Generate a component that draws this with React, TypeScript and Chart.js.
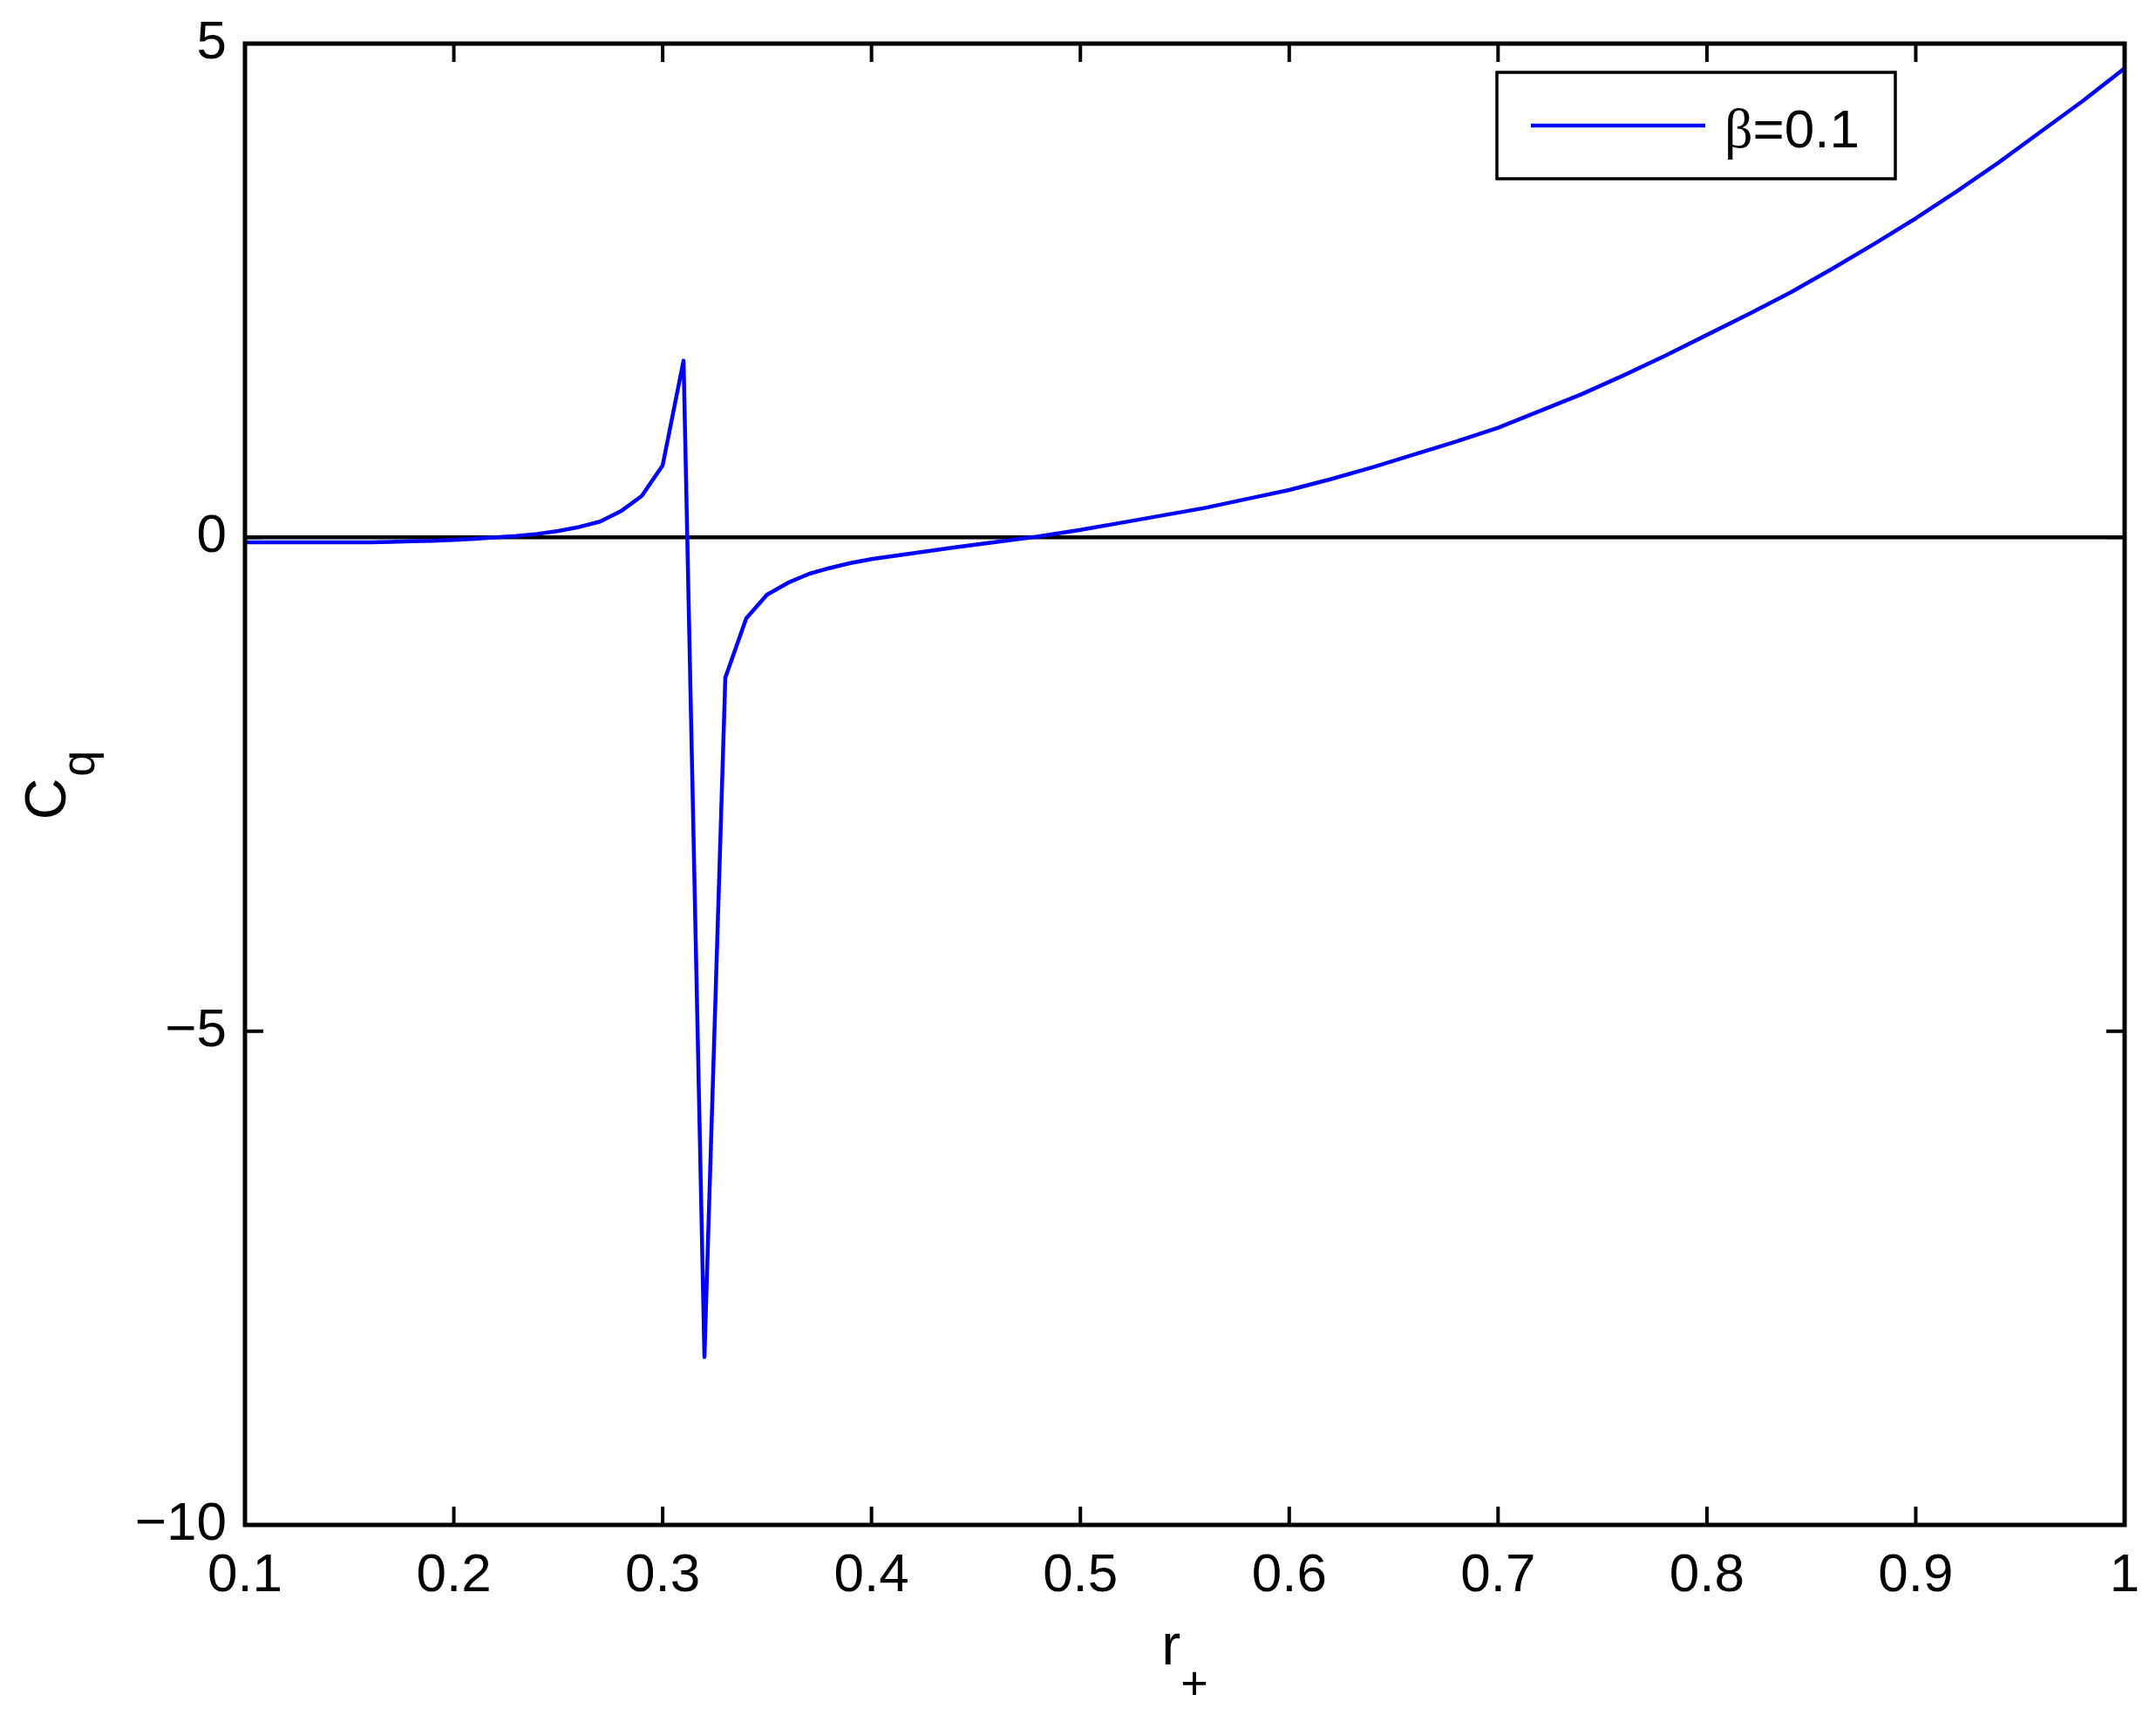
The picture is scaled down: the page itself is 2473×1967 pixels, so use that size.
import { useEffect, useRef } from 'react';
import { Chart, registerables } from 'chart.js';

Chart.register(...registerables);

// ---- data ----
const rValues = [
  0.10, 0.11, 0.12, 0.13, 0.14, 0.15, 0.16, 0.17, 0.18, 0.19,
  0.20, 0.21, 0.22, 0.23, 0.24, 0.25, 0.26, 0.27, 0.28, 0.29,
  0.30, 0.31, 0.32, 0.33, 0.34, 0.35, 0.36, 0.37, 0.38, 0.39,
  0.40, 0.42, 0.44, 0.46, 0.48, 0.50, 0.52, 0.54, 0.56, 0.58,
  0.60, 0.62, 0.64, 0.66, 0.68, 0.70, 0.72, 0.74, 0.76, 0.78,
  0.80, 0.82, 0.84, 0.86, 0.88, 0.90, 0.92, 0.94, 0.96, 0.98,
  1.00,
];
const cqValues = [
  -0.05, -0.05, -0.05, -0.05, -0.05, -0.05, -0.05, -0.045, -0.04, -0.035,
  -0.025, -0.015, 0.0, 0.015, 0.035, 0.065, 0.105, 0.16, 0.265, 0.42,
  0.73, 1.79, -8.30, -1.42, -0.82, -0.58, -0.46, -0.37, -0.31, -0.26,
  -0.22, -0.16, -0.10, -0.045, 0.01, 0.075, 0.15, 0.225, 0.30, 0.39,
  0.48, 0.59, 0.71, 0.84, 0.97, 1.11, 1.28, 1.45, 1.64, 1.84,
  2.05, 2.26, 2.48, 2.72, 2.97, 3.23, 3.51, 3.80, 4.11, 4.42,
  4.75,
];
const zeroLineR = [0.1, 1.0];
const zeroLineC = [0, 0];
const xTicks = [0.1, 0.2, 0.3, 0.4, 0.5, 0.6, 0.7, 0.8, 0.9, 1.0];
const yTicks = [-10, -5, 0, 5];
const seriesLabel = 'β=0.1';
const xTitleMain = 'r';
const xTitleSub = '+';
const yTitleMain = 'C';
const yTitleSub = 'q';

const SANS = '"Liberation Sans", Arial, Helvetica, sans-serif';
const SERIF = '"Liberation Serif", "Times New Roman", serif';

const fmtX = (v: number) => String(Math.round(v * 10) / 10);
const fmtY = (v: number) => (v < 0 ? '\u2212' + Math.abs(v) : String(v));

const framePlugin = {
  id: 'matlabFrame',
  afterDraw(chart: any) {
    const { ctx, chartArea: ca } = chart;
    const xs = chart.scales.x;
    const ys = chart.scales.y;
    ctx.save();
    // ticks (inside, mirrored)
    ctx.strokeStyle = '#000';
    ctx.lineWidth = 4;
    const tl = 21;
    ctx.beginPath();
    xs.ticks.forEach((t: any) => {
      const px = xs.getPixelForValue(t.value);
      ctx.moveTo(px, ca.bottom);
      ctx.lineTo(px, ca.bottom - tl);
      ctx.moveTo(px, ca.top);
      ctx.lineTo(px, ca.top + tl);
    });
    ys.ticks.forEach((t: any) => {
      const py = ys.getPixelForValue(t.value);
      ctx.moveTo(ca.left, py);
      ctx.lineTo(ca.left + tl, py);
      ctx.moveTo(ca.right, py);
      ctx.lineTo(ca.right - tl, py);
    });
    ctx.stroke();
    // frame
    ctx.lineWidth = 5;
    ctx.strokeRect(ca.left, ca.top, ca.right - ca.left, ca.bottom - ca.top);

    // legend
    const ds = chart.data.datasets[0];
    const bl = ca.right - 720;
    const bt = ca.top + 33;
    const bw = 457;
    const bh = 122;
    ctx.fillStyle = '#fff';
    ctx.fillRect(bl, bt, bw, bh);
    ctx.lineWidth = 3.5;
    ctx.strokeStyle = '#000';
    ctx.strokeRect(bl, bt, bw, bh);
    ctx.strokeStyle = ds.borderColor;
    ctx.lineWidth = 4.5;
    ctx.beginPath();
    ctx.moveTo(bl + 39, bt + 61);
    ctx.lineTo(bl + 239, bt + 61);
    ctx.stroke();
    const label: string = ds.label;
    const m = label.match(/^([\u0370-\u03ff]*)(.*)$/) || ['', '', label];
    ctx.fillStyle = '#000';
    ctx.textBaseline = 'alphabetic';
    ctx.textAlign = 'left';
    let tx = bl + 261;
    const baseY = bt + 86;
    if (m[1]) {
      ctx.font = `64px ${SERIF}`;
      ctx.fillText(m[1], tx, baseY);
      tx += ctx.measureText(m[1]).width;
    }
    ctx.font = `62px ${SANS}`;
    ctx.fillText(m[2], tx, baseY);

    // x title
    const cx = (ca.left + ca.right) / 2;
    ctx.font = `66px ${SANS}`;
    const wMain = ctx.measureText(xTitleMain).width;
    ctx.font = `54px ${SANS}`;
    const wSub = ctx.measureText(xTitleSub).width;
    const x0 = cx - (wMain + wSub) / 2;
    ctx.font = `66px ${SANS}`;
    ctx.fillText(xTitleMain, x0, ca.bottom + 160);
    ctx.font = `54px ${SANS}`;
    ctx.fillText(xTitleSub, x0 + wMain, ca.bottom + 200);

    // y title (rotated)
    const cy = (ca.top + ca.bottom) / 2;
    ctx.translate(75, cy + 2);
    ctx.rotate(-Math.PI / 2);
    ctx.font = `66px ${SANS}`;
    const yMainW = ctx.measureText(yTitleMain).width;
    ctx.font = `54px ${SANS}`;
    const ySubW = ctx.measureText(yTitleSub).width;
    const y0 = -(yMainW + ySubW) / 2;
    ctx.font = `66px ${SANS}`;
    ctx.fillText(yTitleMain, y0, 0);
    ctx.font = `54px ${SANS}`;
    ctx.fillText(yTitleSub, y0 + yMainW + 2, 33);
    ctx.restore();
  },
};

export default function App() {
  const ref = useRef<HTMLCanvasElement | null>(null);
  useEffect(() => {
    document.body.style.margin = '0';
    const canvas = ref.current;
    if (!canvas) return;
    const chart = new Chart(canvas, {
      type: 'line',
      data: {
        datasets: [
          {
            label: seriesLabel,
            data: rValues.map((r, i) => ({ x: r, y: cqValues[i] })),
            borderColor: '#0000ff',
            borderWidth: 4.5,
            borderJoinStyle: 'round',
            pointRadius: 0,
            fill: false,
            tension: 0,
            order: 0,
          },
          {
            label: 'zero',
            data: zeroLineR.map((r, i) => ({ x: r, y: zeroLineC[i] })),
            borderColor: '#000000',
            borderWidth: 4.5,
            pointRadius: 0,
            fill: false,
            tension: 0,
            order: 1,
          },
        ],
      },
      options: {
        animation: false,
        responsive: false,
        maintainAspectRatio: false,
        devicePixelRatio: 1,
        layout: { padding: { left: 0, right: 36, top: 50, bottom: 0 } },
        plugins: {
          legend: { display: false },
          tooltip: { enabled: false },
          title: { display: false },
        },
        scales: {
          x: {
            type: 'linear',
            min: 0.1,
            max: 1,
            afterBuildTicks: (s: any) => {
              s.ticks = xTicks.map((v) => ({ value: v }));
            },
            afterFit: (s: any) => {
              s.height = 218;
              s.paddingLeft = 0;
              s.paddingRight = 0;
            },
            grid: { display: false, drawTicks: false },
            border: { display: false },
            ticks: {
              font: { family: SANS, size: 62 },
              color: '#000',
              padding: 22,
              maxRotation: 0,
              autoSkip: false,
              callback: (v: any) => fmtX(Number(v)),
            },
          },
          y: {
            type: 'linear',
            min: -10,
            max: 5,
            afterBuildTicks: (s: any) => {
              s.ticks = yTicks.map((v) => ({ value: v }));
            },
            afterFit: (s: any) => {
              s.width = 281;
              s.paddingTop = 0;
              s.paddingBottom = 0;
            },
            grid: { display: false, drawTicks: false },
            border: { display: false },
            ticks: {
              font: { family: SANS, size: 62 },
              color: '#000',
              padding: 21,
              autoSkip: false,
              callback: (v: any) => fmtY(Number(v)),
            },
          },
        },
      },
      plugins: [framePlugin],
    } as any);
    return () => chart.destroy();
  }, []);
  return (
    <canvas
      ref={ref}
      width={2473}
      height={1967}
      style={{ display: 'block', width: '2473px', height: '1967px', background: '#fff' }}
    />
  );
}
